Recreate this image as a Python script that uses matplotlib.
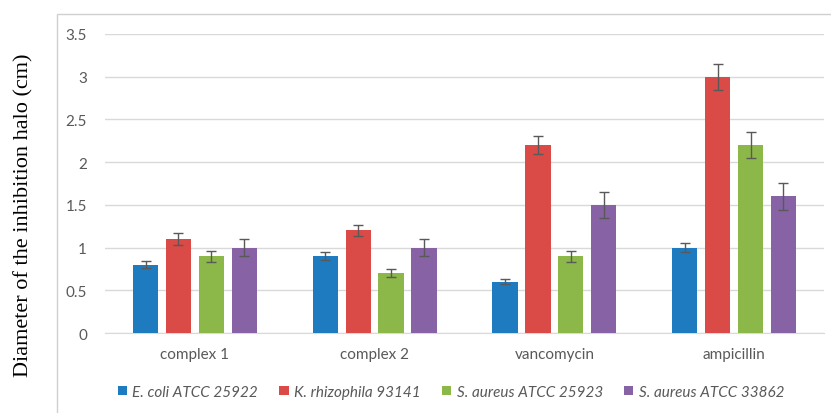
import matplotlib
matplotlib.use("Agg")
import matplotlib.pyplot as plt
import numpy as np
from matplotlib.patches import Rectangle

categories = ["complex 1", "complex 2", "vancomycin", "ampicillin"]
series = ["E. coli ATCC 25922", "K. rhizophila 93141",
          "S. aureus ATCC 25923", "S. aureus ATCC 33862"]
ecoli = [0.8, 0.9, 0.6, 1.0]
ecoli_err = [0.04, 0.05, 0.03, 0.055]
krhiz = [1.1, 1.2, 2.2, 3.0]
krhiz_err = [0.065, 0.065, 0.11, 0.15]
saur1 = [0.9, 0.7, 0.9, 2.2]
saur1_err = [0.065, 0.05, 0.065, 0.155]
saur2 = [1.0, 1.0, 1.5, 1.6]
saur2_err = [0.1, 0.1, 0.15, 0.16]
yticks = [0, 0.5, 1, 1.5, 2, 2.5, 3, 3.5]
ytick_labels = ["0", "0.5", "1", "1.5", "2", "2.5", "3", "3.5"]

colors = ["#1f7bc0", "#da4b47", "#8cb84a", "#8763a6"]
values = [ecoli, krhiz, saur1, saur2]
errors = [ecoli_err, krhiz_err, saur1_err, saur2_err]

fig = plt.figure(figsize=(8.31, 4.14), dpi=100)
# outer chart frame
fig.patches.append(Rectangle((57 / 831, -0.05), 1.0, 1 - 15 / 414 + 0.05,
                             transform=fig.transFigure, fill=False,
                             edgecolor="#d0d0d0", linewidth=1.0))

ax = fig.add_axes([105 / 831, 1 - 334 / 414, (824 - 105) / 831, (334 - 35) / 414])

x = np.arange(len(categories))
width = 0.14
stride = 0.183
for i, (vals, errs, col, name) in enumerate(zip(values, errors, colors, series)):
    offs = (i - 1.5) * stride
    ax.bar(x + offs, vals, width, color=col, label=name, zorder=3,
           yerr=errs, capsize=3.5,
           error_kw=dict(ecolor="#595959", elinewidth=1.0, capthick=1.0, zorder=4))

ax.set_xlim(-0.5, len(categories) - 0.5)
ax.set_ylim(0, 3.5)
ax.set_yticks(yticks)
ax.set_yticklabels(ytick_labels)
ax.set_xticks(x)
ax.set_xticklabels(categories)
ax.yaxis.grid(True, color="#d9d9d9", linewidth=1.0, zorder=0)
ax.set_axisbelow(True)
for s in ["top", "right", "left"]:
    ax.spines[s].set_visible(False)
ax.spines["bottom"].set_color("#d9d9d9")
ax.tick_params(axis="both", length=0, colors="#595959", labelsize=11)
ax.tick_params(axis="y", pad=13)
ax.tick_params(axis="x", pad=10)
for lab in ax.get_xticklabels() + ax.get_yticklabels():
    lab.set_fontfamily("Lato")

fig.text(24 / 831, 1 - 215 / 414, "Diameter of the inhibition halo (cm)",
         rotation=90, ha="center", va="center",
         fontfamily="Liberation Serif", fontsize=16)

leg = fig.legend(loc="center", bbox_to_anchor=(451 / 831, 1 - 393 / 414),
                 ncol=4, frameon=False, handlelength=0.6, handleheight=0.6,
                 handletextpad=0.35, columnspacing=1.4,
                 prop=dict(family="Lato", style="italic", size=11))
for t in leg.get_texts():
    t.set_color("#595959")

fig.savefig("out.png", dpi=100)
